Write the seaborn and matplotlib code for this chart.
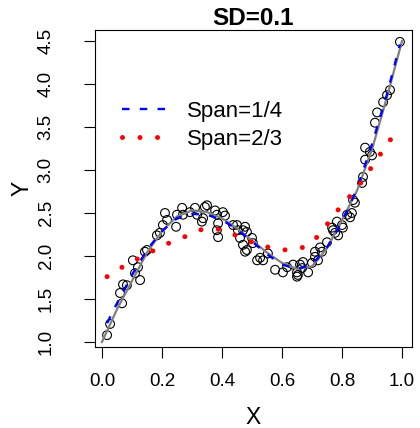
import matplotlib
matplotlib.use("Agg")
import matplotlib.pyplot as plt
import seaborn as sns
import pandas as pd

# ---- data ----
x_obs = [0.017, 0.027, 0.067, 0.060, 0.070, 0.083, 0.110, 0.127, 0.120, 0.103,
         0.143, 0.150, 0.183, 0.193, 0.203, 0.210, 0.217, 0.247, 0.250, 0.267,
         0.270, 0.293, 0.310, 0.317, 0.333, 0.337, 0.343, 0.350, 0.377, 0.383,
         0.387, 0.383, 0.387, 0.403, 0.410, 0.437, 0.450, 0.453, 0.460, 0.470,
         0.477, 0.483, 0.470, 0.477, 0.483, 0.500, 0.503, 0.517, 0.527, 0.537,
         0.553, 0.577, 0.603, 0.617, 0.637, 0.650, 0.650, 0.653, 0.660, 0.670,
         0.667, 0.687, 0.700, 0.710, 0.720, 0.727, 0.733, 0.750, 0.710, 0.767,
         0.770, 0.777, 0.787, 0.800, 0.783, 0.803, 0.827, 0.817, 0.833, 0.843,
         0.837, 0.867, 0.870, 0.877, 0.877, 0.893, 0.900, 0.910, 0.917, 0.937,
         0.950, 0.960, 0.993]
y_obs = [1.08, 1.21, 1.45, 1.57, 1.67, 1.66, 1.80, 1.72, 1.87, 1.95,
         2.05, 2.07, 2.24, 2.27, 2.36, 2.50, 2.42, 2.34, 2.48, 2.56,
         2.48, 2.51, 2.56, 2.48, 2.40, 2.44, 2.57, 2.59, 2.53, 2.48,
         2.38, 2.30, 2.22, 2.51, 2.47, 2.36, 2.36, 2.30, 2.21, 2.30,
         2.34, 2.28, 2.13, 2.05, 2.07, 2.21, 2.15, 1.95, 1.98, 1.95,
         2.03, 1.84, 1.81, 1.87, 1.90, 1.81, 1.76, 1.78, 1.90, 1.93,
         1.86, 1.81, 1.92, 1.99, 1.95, 2.10, 2.05, 2.16, 2.05, 2.33,
         2.30, 2.27, 2.24, 2.36, 2.40, 2.33, 2.45, 2.48, 2.50, 2.62,
         2.65, 2.85, 2.92, 3.12, 3.26, 3.21, 3.17, 3.55, 3.67, 3.79,
         3.87, 3.93, 4.49]

x_true = [0.0, 0.05, 0.1, 0.15, 0.2, 0.25, 0.3, 0.35, 0.4, 0.45, 0.5,
          0.55, 0.6, 0.65, 0.7, 0.75, 0.8, 0.85, 0.9, 0.95, 1.0]
y_true = [1.0, 1.38, 1.71, 2.04, 2.29, 2.46, 2.53, 2.51, 2.44, 2.32, 2.18,
          2.04, 1.92, 1.85, 1.88, 2.09, 2.42, 2.76, 3.24, 3.85, 4.50]

x_span14 = [0.017, 0.05, 0.1, 0.15, 0.2, 0.25, 0.3, 0.35, 0.4, 0.45, 0.5,
            0.55, 0.6, 0.65, 0.7, 0.75, 0.8, 0.85, 0.9, 0.95, 0.993]
y_span14 = [1.22, 1.45, 1.78, 2.07, 2.29, 2.44, 2.49, 2.48, 2.42, 2.31, 2.17,
            2.02, 1.90, 1.85, 1.90, 2.10, 2.40, 2.78, 3.30, 3.88, 4.46]

x_span23 = [0.017, 0.067, 0.12, 0.17, 0.223, 0.28, 0.333, 0.39, 0.447, 0.5,
            0.557, 0.613, 0.67, 0.717, 0.753, 0.79, 0.83, 0.867, 0.9, 0.933,
            0.967, 0.993]
y_span23 = [1.76, 1.87, 1.97, 2.06, 2.15, 2.23, 2.31, 2.31, 2.24, 2.16,
            2.10, 2.07, 2.10, 2.22, 2.38, 2.55, 2.71, 2.87, 3.04, 3.21,
            3.38, 3.50]

x_ticks = [0.0, 0.2, 0.4, 0.6, 0.8, 1.0]
y_ticks = [1.0, 1.5, 2.0, 2.5, 3.0, 3.5, 4.0, 4.5]
legend_labels = ["Span=1/4", "Span=2/3"]
title_text = "SD=0.1"

# ---- style ----
plt.rcParams['lines.scale_dashes'] = False
plt.rcParams['font.family'] = ['Liberation Sans', 'DejaVu Sans']

fig = plt.figure(figsize=(4.2, 4.28), dpi=100)
ax = fig.add_axes([95 / 420, 81 / 428, 317 / 420, 317 / 428])

obs = pd.DataFrame({"x": x_obs, "y": y_obs})
sns.scatterplot(data=obs, x="x", y="y", ax=ax, marker="o", s=40,
                facecolor="none", edgecolor="black", linewidth=0.8, zorder=2)

sns.lineplot(x=x_true, y=y_true, ax=ax, color="#808080", lw=1.6,
             sort=False, estimator=None, zorder=3)

sns.lineplot(x=x_span14, y=y_span14, ax=ax, color="#0000FF", lw=1.7,
             sort=False, estimator=None, zorder=4)
blue = ax.lines[-1]
blue.set_linestyle((0, (5.4, 7.4)))
blue.set_dash_capstyle("butt")

sns.lineplot(x=x_span23, y=y_span23, ax=ax, color="#FF0000", lw=3.6,
             sort=False, estimator=None, zorder=5)
red = ax.lines[-1]
red.set_linestyle((0, (0.01, 12.6)))
red.set_dash_capstyle("round")

ax.set_xlim(-0.0233, 1.0333)
ax.set_ylim(0.942, 4.628)
ax.set_xticks(x_ticks)
ax.set_xticklabels([f"{v:.1f}" for v in x_ticks])
ax.set_yticks(y_ticks)
ax.set_yticklabels([f"{v:.1f}" for v in y_ticks])

for s in ax.spines.values():
    s.set_color("black")
    s.set_linewidth(0.8)

ax.tick_params(axis="both", direction="out", length=8, width=0.8,
               color="black", labelsize=13.5, labelcolor="black")
ax.tick_params(axis="x", pad=10.5)
ax.tick_params(axis="y", pad=21, labelrotation=90)
for lab in ax.get_yticklabels():
    lab.set_va("center")

ax.set_xlabel("X", fontsize=16.5)
ax.set_ylabel("Y", fontsize=16.5)
ax.xaxis.set_label_coords(0.5, (347 - 418) / 317)
ax.xaxis.label.set_va("center")
ax.yaxis.set_label_coords((22 - 95) / 317, 0.5)
ax.yaxis.label.set_va("center")

ax.set_title(title_text, fontsize=17.5, fontweight="bold", pad=1.4)

ax.legend([blue, red], legend_labels, loc="upper left",
          bbox_to_anchor=((122 - 95) / 317, (347 - 101) / 317),
          frameon=False, fontsize=16, handlelength=1.94, handletextpad=1.0,
          labelspacing=0.3, borderpad=0, borderaxespad=0)

fig.savefig("out.png", dpi=100)
